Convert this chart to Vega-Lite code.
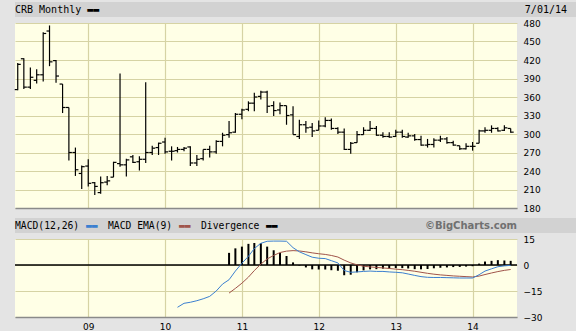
{
  "$schema": "https://vega.github.io/schema/vega-lite/v6.json",
  "background": "#e4e4e4",
  "padding": {"left": 14, "top": 2, "right": 0, "bottom": 0},
  "columns": 1,
  "spacing": 0,
  "align": "none",
  "bounds": "flush",
  "datasets": {
    "price": [
      {"date":"2008-02-01","open":372,"high":415,"low":371,"close":413},
      {"date":"2008-03-01","open":422,"high":423,"low":373,"close":376},
      {"date":"2008-04-01","open":376,"high":408,"low":373,"close":392},
      {"date":"2008-05-01","open":387,"high":405,"low":382,"close":396},
      {"date":"2008-06-01","open":396,"high":465,"low":385,"close":463},
      {"date":"2008-07-01","open":467,"high":476,"low":410,"close":417},
      {"date":"2008-08-01","open":419,"high":420,"low":383,"close":394},
      {"date":"2008-09-01","open":381,"high":381,"low":334,"close":343},
      {"date":"2008-10-01","open":343,"high":343,"low":257,"close":270},
      {"date":"2008-11-01","open":270,"high":278,"low":232,"close":242},
      {"date":"2008-12-01","open":236,"high":249,"low":211,"close":247},
      {"date":"2009-01-01","open":248,"high":259,"low":215,"close":220},
      {"date":"2009-02-01","open":221,"high":222,"low":201,"close":215},
      {"date":"2009-03-01","open":205,"high":231,"low":203,"close":221},
      {"date":"2009-04-01","open":222,"high":232,"low":217,"close":224},
      {"date":"2009-05-01","open":230,"high":255,"low":230,"close":254},
      {"date":"2009-06-01","open":252,"high":398,"low":247,"close":250},
      {"date":"2009-07-01","open":250,"high":260,"low":231,"close":258},
      {"date":"2009-08-01","open":263,"high":266,"low":253,"close":254},
      {"date":"2009-09-01","open":255,"high":264,"low":241,"close":259},
      {"date":"2009-10-01","open":259,"high":384,"low":253,"close":270},
      {"date":"2009-11-01","open":270,"high":281,"low":266,"close":277},
      {"date":"2009-12-01","open":278,"high":286,"low":266,"close":285},
      {"date":"2010-01-01","open":287,"high":294,"low":268,"close":271},
      {"date":"2010-02-01","open":272,"high":280,"low":257,"close":272},
      {"date":"2010-03-01","open":273,"high":279,"low":270,"close":275},
      {"date":"2010-04-01","open":275,"high":279,"low":272,"close":277},
      {"date":"2010-05-01","open":279,"high":280,"low":248,"close":253},
      {"date":"2010-06-01","open":253,"high":266,"low":248,"close":259},
      {"date":"2010-07-01","open":260,"high":275,"low":257,"close":275},
      {"date":"2010-08-01","open":275,"high":281,"low":262,"close":271},
      {"date":"2010-09-01","open":271,"high":290,"low":268,"close":288},
      {"date":"2010-10-01","open":288,"high":302,"low":280,"close":298},
      {"date":"2010-11-01","open":299,"high":321,"low":294,"close":302},
      {"date":"2010-12-01","open":303,"high":334,"low":302,"close":332},
      {"date":"2011-01-01","open":332,"high":341,"low":324,"close":339},
      {"date":"2011-02-01","open":340,"high":353,"low":337,"close":350},
      {"date":"2011-03-01","open":350,"high":367,"low":337,"close":360},
      {"date":"2011-04-01","open":361,"high":370,"low":356,"close":368},
      {"date":"2011-05-01","open":368,"high":370,"low":334,"close":345},
      {"date":"2011-06-01","open":346,"high":353,"low":329,"close":338},
      {"date":"2011-07-01","open":339,"high":351,"low":332,"close":346},
      {"date":"2011-08-01","open":346,"high":346,"low":315,"close":330},
      {"date":"2011-09-01","open":331,"high":345,"low":299,"close":299},
      {"date":"2011-10-01","open":296,"high":323,"low":292,"close":315},
      {"date":"2011-11-01","open":315,"high":321,"low":302,"close":310},
      {"date":"2011-12-01","open":311,"high":318,"low":295,"close":305},
      {"date":"2012-01-01","open":306,"high":322,"low":306,"close":313},
      {"date":"2012-02-01","open":313,"high":327,"low":311,"close":322},
      {"date":"2012-03-01","open":322,"high":325,"low":307,"close":309},
      {"date":"2012-04-01","open":309,"high":311,"low":300,"close":303},
      {"date":"2012-05-01","open":303,"high":309,"low":274,"close":275},
      {"date":"2012-06-01","open":275,"high":287,"low":268,"close":285},
      {"date":"2012-07-01","open":286,"high":305,"low":286,"close":299},
      {"date":"2012-08-01","open":299,"high":311,"low":299,"close":306},
      {"date":"2012-09-01","open":306,"high":321,"low":305,"close":309},
      {"date":"2012-10-01","open":309,"high":313,"low":297,"close":298},
      {"date":"2012-11-01","open":298,"high":303,"low":294,"close":296},
      {"date":"2012-12-01","open":296,"high":303,"low":294,"close":295},
      {"date":"2013-01-01","open":296,"high":307,"low":295,"close":303},
      {"date":"2013-02-01","open":303,"high":307,"low":294,"close":296},
      {"date":"2013-03-01","open":295,"high":302,"low":294,"close":297},
      {"date":"2013-04-01","open":297,"high":300,"low":289,"close":291},
      {"date":"2013-05-01","open":291,"high":297,"low":281,"close":282},
      {"date":"2013-06-01","open":282,"high":292,"low":278,"close":283},
      {"date":"2013-07-01","open":283,"high":293,"low":278,"close":290},
      {"date":"2013-08-01","open":290,"high":297,"low":287,"close":292},
      {"date":"2013-09-01","open":292,"high":295,"low":284,"close":286},
      {"date":"2013-10-01","open":286,"high":289,"low":281,"close":282},
      {"date":"2013-11-01","open":281,"high":281,"low":274,"close":276},
      {"date":"2013-12-01","open":276,"high":285,"low":275,"close":280},
      {"date":"2014-01-01","open":280,"high":287,"low":273,"close":280},
      {"date":"2014-02-01","open":285,"high":307,"low":285,"close":305},
      {"date":"2014-03-01","open":305,"high":311,"low":302,"close":306},
      {"date":"2014-04-01","open":306,"high":314,"low":302,"close":309},
      {"date":"2014-05-01","open":309,"high":311,"low":304,"close":305},
      {"date":"2014-06-01","open":306,"high":314,"low":305,"close":310},
      {"date":"2014-07-01","open":309,"high":309,"low":302,"close":303}
    ],
    "macd": [
      {"date":"2010-03-01","macd":-24.4},
      {"date":"2010-04-01","macd":-22.1},
      {"date":"2010-05-01","macd":-21.5},
      {"date":"2010-06-01","macd":-20.6},
      {"date":"2010-07-01","macd":-19.5},
      {"date":"2010-08-01","macd":-18.1},
      {"date":"2010-09-01","macd":-15.0},
      {"date":"2010-10-01","macd":-11.0},
      {"date":"2010-11-01","macd":-8.5},
      {"date":"2010-12-01","macd":-3.5},
      {"date":"2011-01-01","macd":1.0},
      {"date":"2011-02-01","macd":5.0},
      {"date":"2011-03-01","macd":9.5},
      {"date":"2011-04-01","macd":12.5},
      {"date":"2011-05-01","macd":13.7},
      {"date":"2011-06-01","macd":13.8},
      {"date":"2011-07-01","macd":13.8},
      {"date":"2011-08-01","macd":13.7},
      {"date":"2011-09-01","macd":10.0},
      {"date":"2011-10-01","macd":7.6},
      {"date":"2011-11-01","macd":6.0},
      {"date":"2011-12-01","macd":4.5},
      {"date":"2012-01-01","macd":3.9},
      {"date":"2012-02-01","macd":3.7},
      {"date":"2012-03-01","macd":2.5},
      {"date":"2012-04-01","macd":1.2},
      {"date":"2012-05-01","macd":-3.2},
      {"date":"2012-06-01","macd":-4.2},
      {"date":"2012-07-01","macd":-4.0},
      {"date":"2012-08-01","macd":-3.7},
      {"date":"2012-09-01","macd":-3.5},
      {"date":"2012-10-01","macd":-3.7},
      {"date":"2012-11-01","macd":-3.7},
      {"date":"2012-12-01","macd":-4.0},
      {"date":"2013-01-01","macd":-4.2},
      {"date":"2013-02-01","macd":-4.5},
      {"date":"2013-03-01","macd":-5.2},
      {"date":"2013-04-01","macd":-6.0},
      {"date":"2013-05-01","macd":-6.7},
      {"date":"2013-06-01","macd":-7.1},
      {"date":"2013-07-01","macd":-7.2},
      {"date":"2013-08-01","macd":-7.2},
      {"date":"2013-09-01","macd":-7.3},
      {"date":"2013-10-01","macd":-7.4},
      {"date":"2013-11-01","macd":-7.5},
      {"date":"2013-12-01","macd":-7.5},
      {"date":"2014-01-01","macd":-7.5},
      {"date":"2014-02-01","macd":-5.6},
      {"date":"2014-03-01","macd":-3.5},
      {"date":"2014-04-01","macd":-2.2},
      {"date":"2014-05-01","macd":-1.0},
      {"date":"2014-06-01","macd":-0.5},
      {"date":"2014-07-01","macd":-0.2}
    ],
    "signal": [
      {"date":"2010-11-01","ema":-16.2,"div":7.0},
      {"date":"2010-12-01","ema":-13.5,"div":9.6},
      {"date":"2011-01-01","ema":-10.5,"div":10.6},
      {"date":"2011-02-01","ema":-7.0,"div":12.2},
      {"date":"2011-03-01","ema":-3.2,"div":12.7},
      {"date":"2011-04-01","ema":0.5,"div":12.6},
      {"date":"2011-05-01","ema":3.5,"div":10.6},
      {"date":"2011-06-01","ema":5.5,"div":8.5},
      {"date":"2011-07-01","ema":7.2,"div":6.9},
      {"date":"2011-08-01","ema":8.0,"div":5.2},
      {"date":"2011-09-01","ema":8.3,"div":1.5},
      {"date":"2011-10-01","ema":8.1,"div":-0.3},
      {"date":"2011-11-01","ema":7.6,"div":-1.4},
      {"date":"2011-12-01","ema":7.0,"div":-2.5},
      {"date":"2012-01-01","ema":6.5,"div":-2.6},
      {"date":"2012-02-01","ema":6.1,"div":-2.6},
      {"date":"2012-03-01","ema":5.5,"div":-3.0},
      {"date":"2012-04-01","ema":4.6,"div":-3.3},
      {"date":"2012-05-01","ema":2.8,"div":-5.9},
      {"date":"2012-06-01","ema":1.2,"div":-5.6},
      {"date":"2012-07-01","ema":0.1,"div":-4.2},
      {"date":"2012-08-01","ema":-0.7,"div":-3.1},
      {"date":"2012-09-01","ema":-1.1,"div":-2.5},
      {"date":"2012-10-01","ema":-1.4,"div":-2.4},
      {"date":"2012-11-01","ema":-1.7,"div":-2.1},
      {"date":"2012-12-01","ema":-2.0,"div":-2.0},
      {"date":"2013-01-01","ema":-2.4,"div":-1.8},
      {"date":"2013-02-01","ema":-2.7,"div":-1.8},
      {"date":"2013-03-01","ema":-3.1,"div":-2.0},
      {"date":"2013-04-01","ema":-3.6,"div":-2.4},
      {"date":"2013-05-01","ema":-4.2,"div":-2.5},
      {"date":"2013-06-01","ema":-4.8,"div":-2.3},
      {"date":"2013-07-01","ema":-5.3,"div":-1.9},
      {"date":"2013-08-01","ema":-5.7,"div":-1.6},
      {"date":"2013-09-01","ema":-6.0,"div":-1.4},
      {"date":"2013-10-01","ema":-6.3,"div":-1.2},
      {"date":"2013-11-01","ema":-6.5,"div":-1.1},
      {"date":"2013-12-01","ema":-6.7,"div":-0.9},
      {"date":"2014-01-01","ema":-6.9,"div":-0.7},
      {"date":"2014-02-01","ema":-6.4,"div":0.8},
      {"date":"2014-03-01","ema":-5.5,"div":2.0},
      {"date":"2014-04-01","ema":-4.6,"div":2.4},
      {"date":"2014-05-01","ema":-3.8,"div":2.8},
      {"date":"2014-06-01","ema":-3.1,"div":2.6},
      {"date":"2014-07-01","ema":-2.6,"div":2.4}
    ]
  },
  "concat": [
    {
      "width": 561, "height": 15,
      "view": {"fill": "#d2d2d2", "stroke": null},
      "layer": [
        {
          "data": {"values": [{"slot": "left", "label": "CRB Monthly\u00a0▬▬"}]},
          "mark": {"type": "text", "align": "left", "baseline": "middle", "font": "DejaVu Sans Mono", "fontSize": 10, "color": "#000000"},
          "encoding": {
            "x": {"field": "slot", "type": "nominal", "scale": {"type": "point", "domain": ["left", "right"], "padding": 0}, "axis": null},
            "text": {"field": "label"}
          }
        },
        {
          "data": {"values": [{"slot": "right", "label": "7/01/14"}]},
          "mark": {"type": "text", "align": "right", "baseline": "middle", "dx": -9, "font": "DejaVu Sans Mono", "fontSize": 10, "color": "#000000"},
          "encoding": {
            "x": {"field": "slot", "type": "nominal", "scale": {"type": "point", "domain": ["left", "right"], "padding": 0}, "axis": null},
            "text": {"field": "label"}
          }
        }
      ]
    },
    {"width": 10, "height": 6, "data": {"values": []}, "mark": "point", "encoding": {}},
    {
      "width": 502, "height": 185,
      "view": {"fill": "#ffffe6", "stroke": null},
      "data": {"name": "price"},
      "layer": [
        {
          "mark": {"type": "rule", "color": "#000000", "strokeWidth": 1.2},
          "encoding": {
            "x": {"field": "date", "type": "temporal",
              "scale": {"type": "utc", "domain": [{"year": 2008, "month": 1, "date": 19, "utc": true}, {"year": 2014, "month": 7, "date": 31, "utc": true}]},
              "axis": {"orient": "bottom", "title": null, "labels": false, "ticks": false, "domain": true, "domainColor": "#8a8a8a", "domainWidth": 1.5, "grid": true, "gridColor": "#d6d3a4", "gridWidth": 1.2, "tickCount": 20,
                "values": [{"year": 2009, "month": 1, "date": 1, "utc": true}, {"year": 2010, "month": 1, "date": 1, "utc": true}, {"year": 2011, "month": 1, "date": 1, "utc": true}, {"year": 2012, "month": 1, "date": 1, "utc": true}, {"year": 2013, "month": 1, "date": 1, "utc": true}, {"year": 2014, "month": 1, "date": 1, "utc": true}]}},
            "y": {"field": "low", "type": "quantitative",
              "scale": {"domain": [180, 480], "nice": false, "zero": false},
              "axis": {"orient": "right", "title": null, "values": [180, 210, 240, 270, 300, 330, 360, 390, 420, 450, 480], "tickCount": 20, "labelOverlap": false, "grid": true, "gridColor": "#d6d3a4", "gridWidth": 1.2, "ticks": false, "domain": false, "labelPadding": 6, "labelFont": "DejaVu Sans", "labelFontSize": 9, "labelColor": "#000000"}},
            "y2": {"field": "high"}
          }
        },
        {
          "mark": {"type": "tick", "orient": "horizontal", "size": 3, "thickness": 1.2, "xOffset": -1.5, "color": "#000000", "opacity": 1},
          "encoding": {
            "x": {"field": "date", "type": "temporal"},
            "y": {"field": "open", "type": "quantitative"}
          }
        },
        {
          "mark": {"type": "tick", "orient": "horizontal", "size": 3, "thickness": 1.2, "xOffset": 1.5, "color": "#000000", "opacity": 1},
          "encoding": {
            "x": {"field": "date", "type": "temporal"},
            "y": {"field": "close", "type": "quantitative"}
          }
        }
      ]
    },
    {"width": 10, "height": 10, "data": {"values": []}, "mark": "point", "encoding": {}},
    {
      "width": 561, "height": 15,
      "view": {"fill": "#d2d2d2", "stroke": null},
      "encoding": {
        "x": {"field": "slot", "type": "nominal", "scale": {"type": "point", "domain": ["left", "right"], "padding": 0}, "axis": null},
        "text": {"field": "label"}
      },
      "layer": [
        {
          "data": {"values": [{"slot": "left", "label": "MACD(12,26)"}]},
          "mark": {"type": "text", "align": "left", "baseline": "middle", "font": "DejaVu Sans Mono", "fontSize": 9.7, "color": "#000000"}
        },
        {
          "data": {"values": [{"slot": "left", "label": "▬▬"}]},
          "mark": {"type": "text", "align": "left", "baseline": "middle", "dx": 71, "font": "DejaVu Sans Mono", "fontSize": 9.7, "color": "#3b7fd0"}
        },
        {
          "data": {"values": [{"slot": "left", "label": "MACD EMA(9)"}]},
          "mark": {"type": "text", "align": "left", "baseline": "middle", "dx": 93, "font": "DejaVu Sans Mono", "fontSize": 9.7, "color": "#000000"}
        },
        {
          "data": {"values": [{"slot": "left", "label": "▬▬"}]},
          "mark": {"type": "text", "align": "left", "baseline": "middle", "dx": 164, "font": "DejaVu Sans Mono", "fontSize": 9.7, "color": "#a0544a"}
        },
        {
          "data": {"values": [{"slot": "left", "label": "Divergence"}]},
          "mark": {"type": "text", "align": "left", "baseline": "middle", "dx": 186, "font": "DejaVu Sans Mono", "fontSize": 9.7, "color": "#000000"}
        },
        {
          "data": {"values": [{"slot": "left", "label": "▬▬"}]},
          "mark": {"type": "text", "align": "left", "baseline": "middle", "dx": 251, "font": "DejaVu Sans Mono", "fontSize": 9.7, "color": "#000000"}
        },
        {
          "data": {"values": [{"slot": "right", "label": "©BigCharts.com"}]},
          "mark": {"type": "text", "align": "right", "baseline": "middle", "dx": -59, "font": "DejaVu Sans", "fontWeight": "bold", "fontSize": 10, "color": "#707070"}
        }
      ]
    },
    {"width": 10, "height": 6, "data": {"values": []}, "mark": "point", "encoding": {}},
    {
      "width": 502, "height": 78,
      "view": {"fill": "#ffffe6", "stroke": null},
      "layer": [
        {
          "data": {"name": "signal"},
          "mark": {"type": "rule", "color": "#000000", "strokeWidth": 2},
          "encoding": {
            "x": {"field": "date", "type": "temporal",
              "scale": {"type": "utc", "domain": [{"year": 2008, "month": 1, "date": 19, "utc": true}, {"year": 2014, "month": 7, "date": 31, "utc": true}]},
              "axis": {"orient": "bottom", "title": null, "labelExpr": "utcFormat(datum.value, '%y')", "labelFlush": false, "labelOverlap": false, "labelPadding": 5, "labelFont": "DejaVu Sans", "labelFontSize": 9, "labelColor": "#000000", "ticks": false, "domain": true, "domainColor": "#8a8a8a", "domainWidth": 1.5, "grid": true, "gridColor": "#d6d3a4", "gridWidth": 1.2, "tickCount": 20,
                "values": [{"year": 2009, "month": 1, "date": 1, "utc": true}, {"year": 2010, "month": 1, "date": 1, "utc": true}, {"year": 2011, "month": 1, "date": 1, "utc": true}, {"year": 2012, "month": 1, "date": 1, "utc": true}, {"year": 2013, "month": 1, "date": 1, "utc": true}, {"year": 2014, "month": 1, "date": 1, "utc": true}]}},
            "y": {"field": "div", "type": "quantitative",
              "scale": {"domain": [-30, 15], "nice": false, "zero": false},
              "axis": {"orient": "right", "title": null, "values": [-30, -15, 0, 15], "tickCount": 20, "labelOverlap": false, "grid": true, "gridColor": "#d6d3a4", "gridWidth": 1.2, "ticks": false, "domain": false, "labelPadding": 6, "labelFont": "DejaVu Sans", "labelFontSize": 9, "labelColor": "#000000"}},
            "y2": {"datum": 0}
          }
        },
        {
          "data": {"values": [{}]},
          "mark": {"type": "rule", "color": "#000000", "strokeWidth": 1.3},
          "encoding": {"y": {"datum": 0, "type": "quantitative"}}
        },
        {
          "data": {"name": "signal"},
          "mark": {"type": "line", "color": "#a0544a", "strokeWidth": 1},
          "encoding": {
            "x": {"field": "date", "type": "temporal"},
            "y": {"field": "ema", "type": "quantitative"}
          }
        },
        {
          "data": {"name": "macd"},
          "mark": {"type": "line", "color": "#3b7fd0", "strokeWidth": 1},
          "encoding": {
            "x": {"field": "date", "type": "temporal"},
            "y": {"field": "macd", "type": "quantitative"}
          }
        }
      ]
    }
  ],
  "config": {
    "view": {"stroke": null},
    "axis": {"titlePadding": 0}
  }
}
